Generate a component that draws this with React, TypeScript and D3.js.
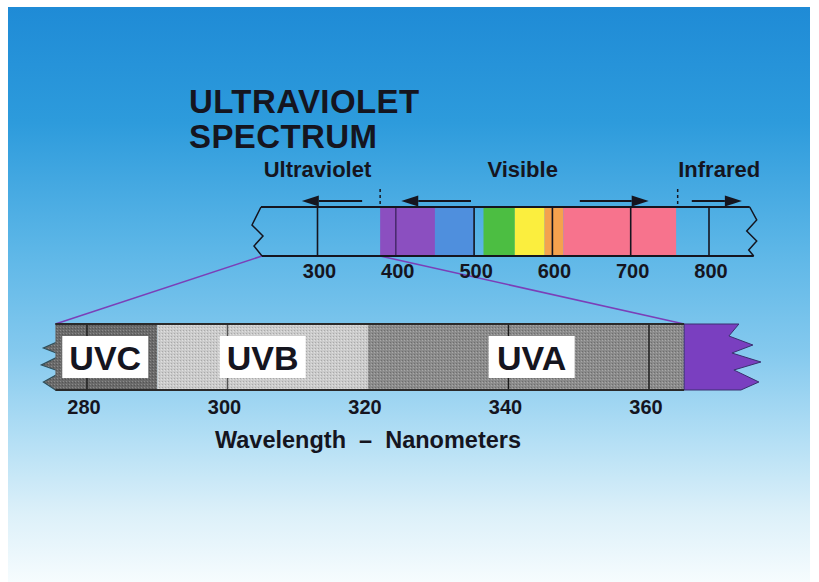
import React from 'react';
import * as d3 from 'd3';

// ---- top spectrum (nm) ----
const topTicks = [300, 400, 500, 600, 700, 800];
const topBarExtent = [224, 852];
const visibleBands = [
  { from: 380, to: 450, color: '#8b4fc0' },
  { from: 450, to: 500, color: '#4f8fdd' },
  { from: 512, to: 552, color: '#4cbe42' },
  { from: 552, to: 590, color: '#fbee3e' },
  { from: 590, to: 614, color: '#f4a24e' },
  { from: 614, to: 758, color: '#f7738d' },
];
const regionLabels = [
  { text: 'Ultraviolet', at: 300 },
  { text: 'Visible', at: 562 },
  { text: 'Infrared', at: 813 },
];
const arrows = [
  { from: 357, to: 280 },
  { from: 496, to: 407 },
  { from: 635, to: 723 },
  { from: 778, to: 842 },
];
const boundaries = [380, 760];

// ---- UV detail (nm) ----
const uvTicks = [280, 300, 320, 340, 360];
const uvLines = [280, 300, 340, 360];
const uvBands = [
  { name: 'UVC', from: 275.5, to: 290, labelAt: 282.6, pat: 'uvc' },
  { name: 'UVB', from: 290, to: 320, labelAt: 305, pat: 'uvb' },
  { name: 'UVA', from: 320, to: 365, labelAt: 343.3, pat: 'uva' },
];
const violetTail = [365, 372.8];
const zoomLinks = [
  { top: 229, bottom: 275.5 },
  { top: 380, bottom: 365 },
];

const W = 819;
const H = 582;
const FONT = '"Liberation Sans", Arial, Helvetica, sans-serif';
const INK = '#15151f';

export default function App() {
  const xTop = d3.scaleLinear().domain([300, 800]).range([317.5, 709]);
  const xUv = d3.scaleLinear().domain([280, 360]).range([87, 649]);

  const tTop = 207, tBot = 256;
  const bTop = 324, bBot = 390;

  const tL = xTop(topBarExtent[0]);
  const tR = xTop(topBarExtent[1]);
  const line = d3.line();

  const leftZigTop: [number, number][] = [
    [tL + 3, tTop], [tL - 6, tTop + 18], [tL + 5, tTop + 29], [tL - 4, tTop + 39], [tL + 4, tBot],
  ];
  const rightZigTop: [number, number][] = [
    [tR, tTop], [tR + 7, tTop + 13], [tR - 3, tTop + 24], [tR + 7, tTop + 34], [tR - 1, tTop + 43], [tR + 4, tBot],
  ];

  const bL = xUv(uvBands[0].from);
  const leftTeeth: [number, number][] = [
    [bL + 1, bTop], [bL + 6, bTop + 16], [bL - 12, bTop + 24], [bL + 6, bTop + 31],
    [bL - 14, bTop + 41], [bL + 6, bTop + 48], [bL - 12, bTop + 58], [bL, bBot],
    [bL + 12, bBot], [bL + 12, bTop],
  ];
  const vx0 = xUv(violetTail[0]);
  const vx1 = xUv(violetTail[1]);
  const tail: [number, number][] = [
    [vx0, bTop], [vx1, bTop], [vx1 - 10, bTop + 12], [vx1 + 14, bTop + 21], [vx1 - 7, bTop + 29],
    [vx1 + 22, bTop + 38], [vx1 - 5, bTop + 46], [vx1 + 20, bTop + 58], [vx1 + 2, bBot], [vx0, bBot],
  ];

  const arrowPath = (a: { from: number; to: number }) => {
    const x0 = xTop(a.from), x1 = xTop(a.to);
    const dir = Math.sign(x1 - x0);
    const y = 201;
    const headLen = 17, half = 5.5;
    return {
      shaft: line([[x0, y], [x1 - dir * headLen, y]]) as string,
      head: line([[x1, y], [x1 - dir * headLen, y - half], [x1 - dir * headLen, y + half]]) + 'Z',
    };
  };

  return (
    <svg width={W} height={H} style={{ position: 'absolute', left: 0, top: 0 }} fontFamily={FONT}>
      <defs>
        <linearGradient id="bg" x1="0" y1="0" x2="0" y2="1">
          <stop offset="0" stopColor="#1f8bd6" />
          <stop offset="0.2" stopColor="#2d9bdc" />
          <stop offset="0.42" stopColor="#5cb6e7" />
          <stop offset="0.6" stopColor="#84c9ee" />
          <stop offset="0.76" stopColor="#b6e0f5" />
          <stop offset="0.88" stopColor="#dcf0f9" />
          <stop offset="1" stopColor="#f6fcfe" />
        </linearGradient>
        <pattern id="uvc" width="3" height="3" patternUnits="userSpaceOnUse">
          <rect width="3" height="3" fill="#6a6a6a" />
          <rect width="1" height="1" fill="#8a8a8a" />
          <rect x="2" y="1" width="1" height="1" fill="#555" />
        </pattern>
        <pattern id="uvb" width="3" height="3" patternUnits="userSpaceOnUse">
          <rect width="3" height="3" fill="#cbcbcb" />
          <rect width="1" height="1" fill="#a9a9a9" />
          <rect x="2" y="1" width="1" height="1" fill="#e0e0e0" />
        </pattern>
        <pattern id="uva" width="3" height="3" patternUnits="userSpaceOnUse">
          <rect width="3" height="3" fill="#8b8b8b" />
          <rect width="1" height="1" fill="#6e6e6e" />
          <rect x="2" y="1" width="1" height="1" fill="#a8a8a8" />
        </pattern>
      </defs>

      <rect x={0} y={0} width={W} height={H} fill="#ffffff" />
      <rect x={8} y={7} width={802} height={H - 7} fill="url(#bg)" />

      {/* title */}
      <text x={189} y={113} fontSize={33} fontWeight="bold" fill={INK} letterSpacing={0.4}>ULTRAVIOLET</text>
      <text x={189} y={148} fontSize={33} fontWeight="bold" fill={INK} letterSpacing={0.4}>SPECTRUM</text>

      {/* region labels */}
      {regionLabels.map((r) => (
        <text key={r.text} x={xTop(r.at)} y={177} fontSize={22} fontWeight="bold" fill={INK} textAnchor="middle">
          {r.text}
        </text>
      ))}

      {/* arrows */}
      {arrows.map((a, i) => {
        const p = arrowPath(a);
        return (
          <g key={i}>
            <path d={p.shaft} stroke={INK} strokeWidth={2} />
            <path d={p.head} fill={INK} />
          </g>
        );
      })}

      {/* boundaries */}
      {boundaries.map((b) => (
        <line key={b} x1={xTop(b)} x2={xTop(b)} y1={189} y2={tTop} stroke={INK} strokeWidth={1.5} strokeDasharray="3,3" />
      ))}

      {/* zoom link lines */}
      {zoomLinks.map((z, i) => (
        <line key={i} x1={i === 0 ? tL + 4 : xTop(z.top)} y1={tBot} x2={xUv(z.bottom)} y2={bTop} stroke="#7b3fb8" strokeWidth={1.6} />
      ))}

      {/* top bar bands */}
      {visibleBands.map((b, i) => (
        <rect key={i} x={xTop(b.from)} y={tTop} width={xTop(b.to) - xTop(b.from)} height={tBot - tTop} fill={b.color} />
      ))}
      {topTicks.map((t) => (
        <line key={t} x1={xTop(t)} x2={xTop(t)} y1={tTop} y2={tBot} stroke={t === 400 ? '#4a2a70' : INK} strokeWidth={1.6} />
      ))}
      <line x1={tL + 3} x2={tR} y1={tTop} y2={tTop} stroke={INK} strokeWidth={2} />
      <line x1={tL + 4} x2={tR + 4} y1={tBot} y2={tBot} stroke={INK} strokeWidth={2} />
      <path d={line(leftZigTop) as string} fill="none" stroke={INK} strokeWidth={1.5} />
      <path d={line(rightZigTop) as string} fill="none" stroke={INK} strokeWidth={1.5} />
      {topTicks.map((t) => (
        <text key={t} x={xTop(t) + 2} y={278} fontSize={20} fontWeight="bold" fill={INK} textAnchor="middle">{t}</text>
      ))}

      {/* bottom UV bar */}
      <path d={line(leftTeeth) + 'Z'} fill="url(#uvc)" stroke="#2f4f5a" strokeWidth={1.2} />
      {uvBands.map((b) => (
        <rect key={b.name} x={xUv(b.from)} y={bTop} width={xUv(b.to) - xUv(b.from)} height={bBot - bTop} fill={`url(#${b.pat})`} />
      ))}
      <path d={line(tail) + 'Z'} fill="#7a3fc0" stroke="#3a3070" strokeWidth={1} />
      {uvLines.map((t) => (
        <line key={t} x1={xUv(t)} x2={xUv(t)} y1={bTop} y2={bBot} stroke={t === 300 ? '#555' : '#1a1a1a'} strokeWidth={1.4} />
      ))}
      <line x1={bL} x2={vx0} y1={bTop} y2={bTop} stroke="#2a2a2a" strokeWidth={2.2} />
      <line x1={bL} x2={vx0} y1={bBot} y2={bBot} stroke="#2a2a2a" strokeWidth={2.2} />
      {uvBands.map((b) => (
        <g key={b.name + 'l'}>
          <rect x={xUv(b.labelAt) - 43} y={336} width={86} height={42} fill="#ffffff" />
          <text x={xUv(b.labelAt)} y={370} fontSize={34} fontWeight="bold" fill={INK} textAnchor="middle">{b.name}</text>
        </g>
      ))}
      {uvTicks.map((t) => (
        <text key={t} x={xUv(t) - 3} y={414} fontSize={20} fontWeight="bold" fill={INK} textAnchor="middle">{t}</text>
      ))}
      <text x={xUv(320)} y={448} fontSize={23.5} fontWeight="bold" fill={INK} textAnchor="middle" style={{ whiteSpace: 'pre' }}>
        {'Wavelength  \u2013  Nanometers'}
      </text>
    </svg>
  );
}
